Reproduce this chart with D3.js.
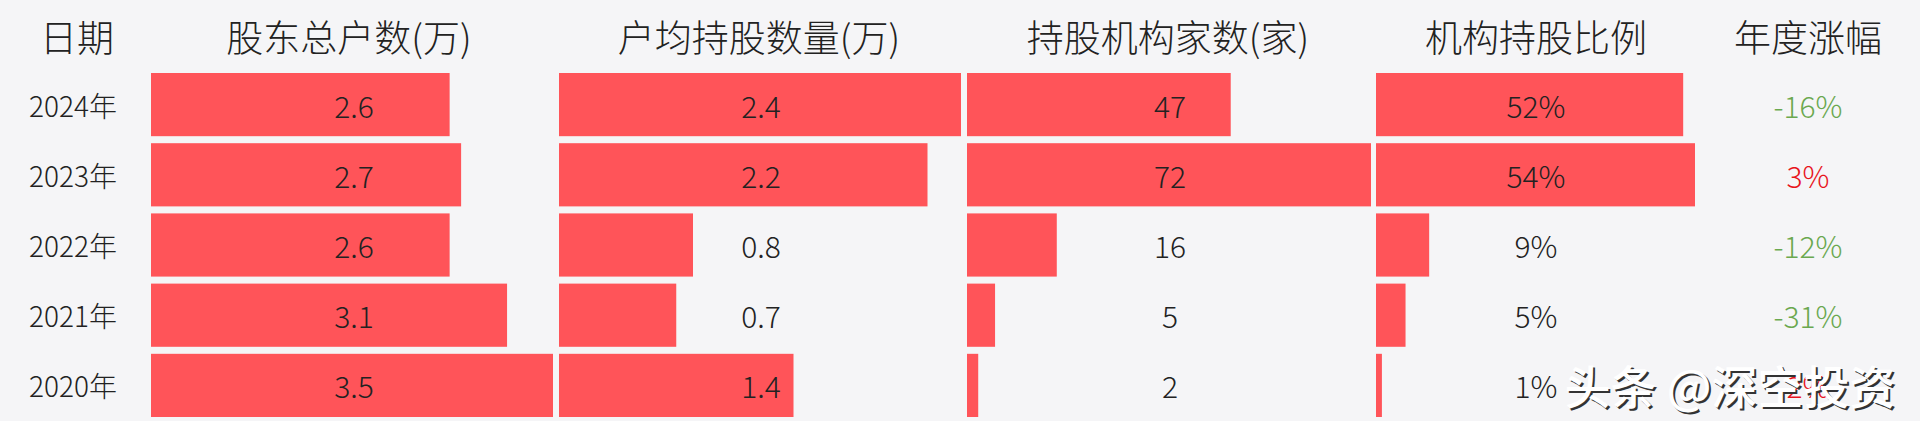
<!DOCTYPE html>
<html><head><meta charset="utf-8">
<script src="https://cdn.jsdelivr.net/npm/d3@7"></script>
<style>body{margin:0;background:#f5f5f7;}svg{display:block;}</style>
</head><body><svg id="c" width="1920" height="421"></svg>
<script>
const years = ["2024年","2023年","2022年","2021年","2020年"];
const headers = ["日期","股东总户数(万)","户均持股数量(万)","持股机构家数(家)","机构持股比例","年度涨幅"];
const holders = [2.6,2.7,2.6,3.1,3.5];
const perHolder = [2.4,2.2,0.8,0.7,1.4];
const instCount = [47,72,16,5,2];
const instRatio = [52,54,9,5,1];
const change = [-16,3,-12,-31,2];

const svg = d3.select("#c");
const font = "'Noto Sans CJK SC','Noto Sans',sans-serif";
svg.append("rect").attr("width",1920).attr("height",421).attr("fill","#f5f5f7");

const y = d3.scaleBand().domain(years).range([73,417]).paddingInner(0.1).paddingOuter(0);
const cols = [
  {data:holders, x0:151, x1:553, max:3.5, fmt:d=>d.toFixed(1), cx:354},
  {data:perHolder, x0:559, x1:961, max:2.4, fmt:d=>d.toFixed(1), cx:761},
  {data:instCount, x0:967, x1:1371, max:72, fmt:d=>String(d), cx:1170},
  {data:instRatio, x0:1376, x1:1695, max:54, fmt:d=>d+"%", cx:1536}
];
const hx = [77,349,759,1168,1536,1808];
svg.selectAll("text.h").data(headers).join("text")
  .attr("x",(d,i)=>hx[i]).attr("y",36).attr("text-anchor","middle").attr("dominant-baseline","central")
  .attr("font-family",font).attr("font-size",37).attr("font-weight",300).attr("fill","#222").text(d=>d);
svg.selectAll("text.yr").data(years).join("text")
  .attr("x",73).attr("y",d=>y(d)+y.bandwidth()/2).attr("text-anchor","middle").attr("dominant-baseline","central")
  .attr("font-family",font).attr("font-size",28).attr("font-weight",300).attr("fill","#222").text(d=>d);
cols.forEach(c=>{
  const x = d3.scaleLinear().domain([0,c.max]).range([c.x0,c.x1]);
  const g = svg.append("g");
  g.selectAll("rect").data(c.data).join("rect")
    .attr("x",c.x0).attr("y",(d,i)=>y(years[i])).attr("height",y.bandwidth())
    .attr("width",d=>x(d)-c.x0).attr("fill","#ff5459");
  g.selectAll("text").data(c.data).join("text")
    .attr("x",c.cx).attr("y",(d,i)=>y(years[i])+y.bandwidth()/2).attr("text-anchor","middle").attr("dominant-baseline","central")
    .attr("font-family",font).attr("font-size",30).attr("font-weight",300).attr("fill","#222").text(c.fmt);
});
svg.selectAll("text.chg").data(change).join("text")
  .attr("x",1808).attr("y",(d,i)=>y(years[i])+y.bandwidth()/2).attr("text-anchor","middle").attr("dominant-baseline","central")
  .attr("font-family",font).attr("font-size",30).attr("font-weight",300).attr("fill",d=>d<0?"#6aa84f":"#e8141c").text(d=>d+"%");
// watermark
const wm = svg.append("g");
[[2,2,"#333"],[0,0,"#fff"]].forEach(([dx,dy,c])=>{
  wm.append("text").attr("x",1730+dx).attr("y",384+dy).attr("text-anchor","middle").attr("dominant-baseline","central")
    .attr("font-family",font).attr("font-size",46).attr("font-weight",500).attr("fill",c).text("头条 @深空投资");
});
</script></body></html>
